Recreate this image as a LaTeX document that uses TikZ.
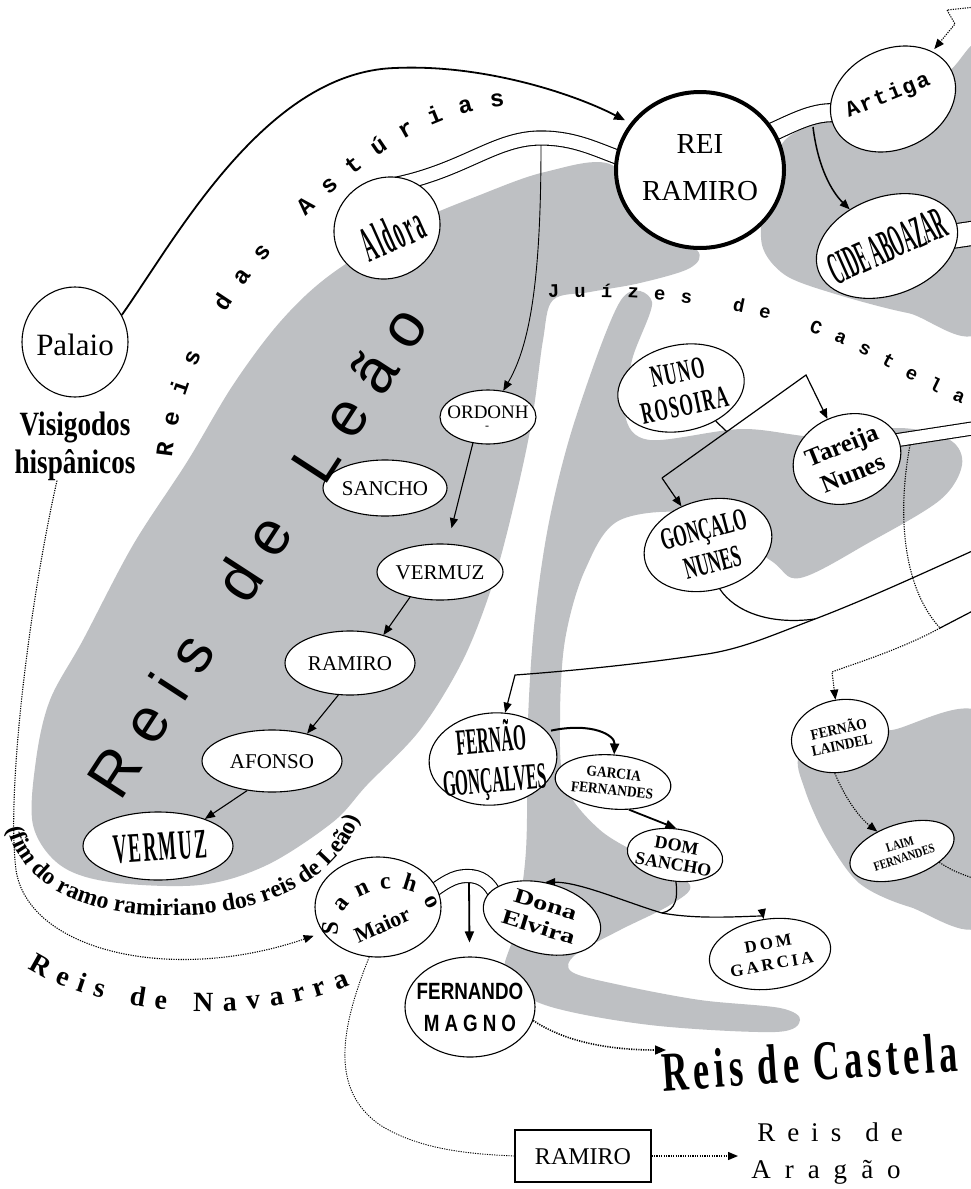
\documentclass[tikz,border=0pt]{standalone}
\usepackage{graphicx}
\usepackage{fontspec}
\setmainfont{Liberation Serif}
\newfontfamily\cX{Liberation Serif}[FakeStretch=0.35]
\newfontfamily\cA{Liberation Serif}[FakeStretch=0.45]
\newfontfamily\cB{Liberation Serif}[FakeStretch=0.55]
\newfontfamily\cC{Liberation Serif}[FakeStretch=0.65]
\newfontfamily\cD{Liberation Serif}[FakeStretch=0.8]
\newfontfamily\cE{Liberation Serif}[FakeStretch=0.9]
\newfontfamily\cW{Liberation Serif}[FakeStretch=1.35]
\newfontfamily\monof{Liberation Mono}
\newfontfamily\sansf{Liberation Sans}
\newfontfamily\sansc{Liberation Sans}[FakeStretch=0.8]
\usetikzlibrary{shapes.geometric,arrows.meta,decorations.text,calc}
\newcommand\fsz[2]{\fontsize{#1}{#2}\selectfont}
\definecolor{shade}{RGB}{190,192,195}
\pgfdeclarelayer{bg}
\pgfdeclarelayer{mid}
\pgfsetlayers{bg,mid,main}
\tikzset{
  pers/.style={ellipse, draw, fill=white, line width=1.1pt, inner sep=0pt},
  ptxt/.style={inner sep=0pt, align=center},
  conn/.style={line width=1.1pt, -{Triangle[length=10pt,width=8pt]}},
  thickconn/.style={line width=1.8pt, -{Triangle[length=11pt,width=9pt]}},
  dotconn/.style={line width=1.1pt, dash pattern=on 1.2pt off 1.2pt},
  dottip/.style={-{Triangle[length=10pt,width=8pt]}},
  marriage/.style={double=white, double distance=13pt, line width=1.1pt},
  region/.style={fill=shade, draw=none},
  onpath/.style={decorate, decoration={text along path, text align={fit to path}, text={#1}}}
}
\begin{document}
\begin{tikzpicture}[x=1pt,y=-1pt]
\useasboundingbox (0,0) rectangle (970,1189);
\clip (0,0) rectangle (970,1189);
\begin{pgfonlayer}{bg}
\fill[white] (0,0) rectangle (970,1189);
\fill[region] plot[smooth cycle, tension=0.55] coordinates {(330,275) (410,225) (480,195) (545,172) (612,165) (650,225) (697,250) (690,268) (640,283) (590,292) (553,300) (543,340) (532,420) (515,500) (493,583) (463,660) (420,730) (367,785) (333,822) (267,865) (200,885) (110,882) (60,865) (33,825) (36,760) (50,700) (83,640) (133,545) (187,462) (233,385) (280,322)};
\fill[region] plot[smooth cycle, tension=0.55] coordinates {(621,300) (652,302) (632,360) (625,415) (650,440) (742,429) (820,437) (900,428) (950,440) (962,465) (940,500) (870,542) (800,578) (770,560) (700,515) (620,520) (585,570) (565,640) (560,720) (565,785) (600,830) (650,860) (690,885) (670,905) (620,930) (575,955) (572,972) (620,985) (700,1000) (780,1008) (800,1020) (775,1032) (650,1025) (545,1005) (505,975) (515,930) (526,850) (528,720) (535,617) (550,517) (576,417)};
\fill[region] plot[smooth cycle, tension=0.5] coordinates {(785,140) (830,120) (900,108) (950,70) (985,55) (985,322) (908,313) (832,293) (785,275) (762,245) (765,190)};
\fill[region] plot[smooth cycle, tension=0.5] coordinates {(800,755) (850,735) (892,730) (985,718) (985,920) (910,907) (859,883) (826,837) (805,790)};
\end{pgfonlayer}

% ---------- persons ----------
\node[pers, minimum width=106pt, minimum height=110pt] (palaio) at (75,342) {};
\node[ptxt, font=\fsz{31}{34}] (palaio-t) at (75,345) {Palaio};
\node[ptxt, font=\cD\bfseries\fsz{34}{38}] (visig) at (75,446) {Visigodos\\hisp\^anicos};
\node[pers, line width=4pt, minimum width=168pt, minimum height=156pt] (rr) at (700,170) {};
\node[ptxt, font=\fsz{29}{47}] (rr-t) at (700,168) {REI\\RAMIRO};
\node[pers, rotate=25, minimum width=130pt, minimum height=100pt] (artiga) at (893,99) {};
\node[ptxt, rotate=22, font=\monof\bfseries\fsz{22}{24}] (artiga-t) at (888,96) {A\hspace{2pt}r\hspace{2pt}t\hspace{2pt}i\hspace{2pt}g\hspace{2pt}a};
\node[pers, rotate=20, minimum width=146pt, minimum height=98pt] (cide) at (887,246) {};
\node[ptxt, rotate=24, font=\cX\bfseries\fsz{46}{48}] (cide-t) at (887,246) {CIDE ABOAZAR};
\node[pers, rotate=30, minimum width=108pt, minimum height=100pt] (aldora) at (387,228) {};
\node[ptxt, rotate=24, font=\cX\bfseries\fsz{50}{52}] (aldora-t) at (392,234) {A\hspace{2.5pt}l\hspace{2.5pt}d\hspace{2.5pt}o\hspace{2.5pt}r\hspace{2.5pt}a};
\node[pers, minimum width=96pt, minimum height=54pt] (ordonh) at (488,417) {};
\node[ptxt, font=\fsz{19}{20}] (ordonh-t) at (488,412) {ORDONH};
\node[ptxt, font=\fsz{12}{12}] (ordonh-d) at (487,428) {-};
\node[pers, minimum width=124pt, minimum height=56pt] (sancho) at (385,488) {};
\node[ptxt, font=\fsz{21}{22}] (sancho-t) at (385,489) {SANCHO};
\node[pers, minimum width=126pt, minimum height=56pt] (vermuza) at (440,572) {};
\node[ptxt, font=\fsz{21}{22}] (vermuza-t) at (440,573) {VERMUZ};
\node[pers, minimum width=130pt, minimum height=64pt] (ramiro) at (350,663) {};
\node[ptxt, font=\fsz{21}{22}] (ramiro-t) at (350,664) {RAMIRO};
\node[pers, minimum width=140pt, minimum height=62pt] (afonso) at (272,761) {};
\node[ptxt, font=\fsz{21}{22}] (afonso-t) at (272,762) {AFONSO};
\node[pers, minimum width=150pt, minimum height=68pt] (vermuzb) at (158,846) {};
\node[ptxt, rotate=4, font=\cA\bfseries\fsz{42}{44}] (vermuzb-t) at (160,847) {V\hspace{2pt}E\hspace{2pt}R\hspace{2pt}M\hspace{2pt}U\hspace{2pt}Z};
\node[pers, rotate=12, minimum width=128pt, minimum height=86pt] (nuno) at (681,388) {};
\node[ptxt, rotate=12, font=\cB\bfseries\fsz{31}{34}] (nuno-t) at (681,389) {N\hspace{1.5pt}U\hspace{1.5pt}N\hspace{1.5pt}O\\R\hspace{1.5pt}O\hspace{1.5pt}S\hspace{1.5pt}O\hspace{1.5pt}I\hspace{1.5pt}R\hspace{1.5pt}A};
\node[pers, rotate=20, minimum width=110pt, minimum height=88pt] (tareija) at (847,459) {};
\node[ptxt, rotate=22, font=\bfseries\fsz{25}{30}] (tareija-t) at (847,459) {Tareija\\Nunes};
\node[pers, rotate=15, minimum width=130pt, minimum height=90pt] (goncalo) at (708,545) {};
\node[ptxt, rotate=15, font=\cB\bfseries\fsz{31}{34}] (goncalo-t) at (708,546) {GONÇALO\\NUNES};
\node[pers, rotate=5, minimum width=128pt, minimum height=92pt] (fernao) at (493,759) {};
\node[ptxt, rotate=5, font=\bfseries\fsz{37}{40}] (fernao-t) at (493,760) {\scalebox{0.45}[1]{FERNÃO}\\\scalebox{0.45}[1]{GONÇALVES}};
\node[pers, rotate=-5, minimum width=116pt, minimum height=54pt] (garcia) at (613,782) {};
\node[ptxt, rotate=-6, font=\cE\bfseries\fsz{15}{17}] (garcia-t) at (613,782) {GARCIA\\FERNANDES};
\node[pers, rotate=-8, minimum width=96pt, minimum height=52pt] (domsancho) at (675,855) {};
\node[ptxt, rotate=-10, font=\bfseries\fsz{18}{19}] (domsancho-t) at (675,855) {DOM\\SANCHO};
\node[pers, rotate=-15, minimum width=120pt, minimum height=70pt] (elvira) at (542,918) {};
\node[ptxt, rotate=-17, font=\cW\bfseries\fsz{21}{24}] (elvira-t) at (542,916) {Dona\\Elvira};
\node[pers, rotate=8, minimum width=122pt, minimum height=70pt] (domgarcia) at (770,954) {};
\node[ptxt, rotate=10, font=\bfseries\fsz{17}{21}] (domgarcia-t) at (770,954) {D\hspace{3pt}O\hspace{3pt}M\\G\hspace{3pt}A\hspace{3pt}R\hspace{3pt}C\hspace{3pt}I\hspace{3pt}A};
\node[pers, rotate=12, minimum width=98pt, minimum height=72pt] (laindel) at (840,736) {};
\node[ptxt, rotate=12, font=\bfseries\fsz{15}{16}] (laindel-t) at (840,736) {\scalebox{0.9}[1]{FERNÃO}\\\scalebox{0.9}[1]{LAINDEL}};
\node[pers, rotate=18, minimum width=108pt, minimum height=54pt] (laim) at (902,851) {};
\node[ptxt, rotate=18, font=\cD\bfseries\fsz{13}{14}] (laim-t) at (902,851) {LAIM\\FERNANDES};
\node[pers, minimum width=126pt, minimum height=100pt] (smaior) at (378,907) {};
\node[ptxt, rotate=24, font=\bfseries\fsz{22}{22}] (smaior-t) at (382,925) {Maior};
\node[pers, minimum width=130pt, minimum height=100pt] (fmagno) at (470,1007) {};
\node[ptxt, font=\sansc\bfseries\fsz{23.5}{32}] (fmagno-t) at (470,1007) {FERNANDO\\M\hspace{5pt}A\hspace{5pt}G\hspace{5pt}N\hspace{5pt}O};
\node[draw, line width=1.3pt, fill=white, minimum width=136pt, minimum height=52pt, inner sep=0pt] (rbox) at (583,1156) {};
\node[ptxt, font=\fsz{24}{24}] (rbox-t) at (583,1157) {RAMIRO};

% ---------- free labels ----------
\node[ptxt, rotate=4, font=\cC\bfseries\fsz{56}{56}] (castela) at (810,1062) {R\hspace{5pt}e\hspace{5pt}i\hspace{5pt}s\hspace{14pt}d\hspace{5pt}e\hspace{14pt}C\hspace{5pt}a\hspace{5pt}s\hspace{5pt}t\hspace{5pt}e\hspace{5pt}l\hspace{5pt}a};
\node[ptxt, font=\fsz{27}{27}] (aragao1) at (830,1132) {R\hspace{12pt}e\hspace{12pt}i\hspace{12pt}s\hspace{24pt}d\hspace{12pt}e};
\node[ptxt, font=\fsz{27}{27}] (aragao2) at (826,1172) {A\hspace{14pt}r\hspace{14pt}a\hspace{14pt}g\hspace{14pt}ã\hspace{14pt}o};

\path[onpath={|\monof\bfseries\fsz{24}{24}|Reis das Ast{ú}rias}] (172,458) .. controls (180,380) and (220,300) .. (300,222) .. controls (370,155) and (430,112) .. (505,106);
\path[onpath={|\monof\bfseries\fsz{19}{19}|Ju{í}zes de Castela}] (548,298) .. controls (680,292) and (790,315) .. (870,358) .. controls (910,380) and (940,395) .. (962,404);
\path[onpath={|\sansf\fsz{62}{62}|Reis de Le{ã}o}] (120,802) -- (430,325);
\path[onpath={|\bfseries\fsz{24}{24}|(fim do ramo ramiriano dos reis de Le{ã}o)}] (8,828) .. controls (25,905) and (130,925) .. (220,912) .. controls (290,902) and (340,870) .. (360,818);
\path[onpath={|\bfseries\fsz{28}{28}|Reis de Navarra}] (28,968) .. controls (110,1020) and (260,1025) .. (350,985);
\path[onpath={|\bfseries\fsz{24}{24}|Sancho}] (338,936) .. controls (334,884) and (420,874) .. (428,910);

% ---------- connectors ----------
\coordinate (hump) at (541,145);
\coordinate (ajunc) at (813,127);
\coordinate (tjR) at (995,425);
\coordinate (tjD) at (910,445);
\coordinate (junc2) at (940,628);
\coordinate (l1s) at (990,543);
\coordinate (l2s) at (990,602);
\coordinate (gj) at (815,619);
\coordinate (c2) at (515,675);
\coordinate (corner) at (662,478);
\coordinate (peak) at (806,375);
\coordinate (njunc) at ($(corner)!0.45!(peak)$);
\coordinate (ejunc) at (662,913);
\coordinate (sej) at (469,883);
\coordinate (castA) at (666,1050);
\coordinate (aragA) at (738,1156);
\coordinate (ldot) at (832,672);
\coordinate (topin) at (985,6);
\coordinate (topa) at (947,10);
\coordinate (topb) at (955,24);

\begin{pgfonlayer}{mid}
\draw[thickconn, shorten >=6pt] (palaio.30) .. controls (175,240) and (265,72) .. (395,68) .. controls (480,64) and (570,92) .. (rr.146);
\draw[marriage] ($(aldora.50)!8pt!(aldora.center)$) .. controls (465,170) and (495,138) .. (541,138) .. controls (575,138) and (597,150) .. ($(rr.172)!8pt!(rr.center)$);
\draw[conn, line width=0.9pt] (hump) .. controls (541,280) and (530,345) .. (ordonh);
\draw[marriage, double distance=17pt] ($(rr.28)!10pt!(rr.center)$) .. controls (795,122) and (815,110) .. ($(artiga.170)!10pt!(artiga.center)$);
\draw[dotconn, dottip, shorten >=3pt] (topin) -- (topa) -- (topb) -- (artiga);
\draw[conn, line width=1.5pt] (ajunc) .. controls (818,168) and (832,192) .. (cide);
\draw[marriage, double distance=23pt] (cide.center) -- (995,230);
\draw[marriage, double distance=12pt] ($(tareija.center)+(25,-15)$) -- (tjR);
\draw[dotconn] (tjD) .. controls (896,520) and (905,590) .. (junc2);
\draw[line width=1.2pt] (l2s) -- (junc2);
\draw[dotconn, dottip] (junc2) .. controls (900,650) and (850,665) .. (ldot) -- (laindel);
\draw[dotconn, dottip] (laindel.-110) .. controls (846,800) and (860,818) .. (laim);
\draw[dotconn] (laim.-35) .. controls (955,872) .. (990,884);
\draw[conn, line width=1.2pt] (l1s) .. controls (930,570) and (870,598) .. (gj) .. controls (770,636) and (740,650) .. (700,655) .. controls (640,664) and (570,671) .. (c2) -- (fernao);
\draw[line width=1.2pt] (goncalo.south) .. controls (735,612) and (770,625) .. (gj);
\draw[line width=1.2pt] (nuno) -- (njunc);
\draw[conn, line width=1.2pt] (corner) -- (peak) -- (tareija);
\draw[conn, line width=1.2pt] (corner) -- (goncalo);
\draw[thickconn, line width=2pt, shorten <=4pt] (fernao.22) .. controls (592,722) and (615,735) .. (garcia);
\draw[thickconn] (garcia.-55) -- (domsancho.95);
\draw[line width=1.2pt] (domsancho.-80) .. controls (678,898) and (676,910) .. (ejunc);
\draw[conn, line width=1.2pt] (ejunc) .. controls (625,902) and (580,882) .. (elvira.100);
\draw[conn, line width=1.2pt] (ejunc) .. controls (700,920) and (745,916) .. (763,916) -- (domgarcia);
\draw[marriage, double distance=12pt] ($(smaior.15)!8pt!(smaior.center)$) .. controls (450,878) and (458,876) .. (468,876) .. controls (480,876) and (490,882) .. ($(elvira.170)!8pt!(elvira.center)$);
\draw[thickconn, shorten >=14pt] (sej) -- (fmagno);
\draw[dotconn, line width=1.6pt, -{Triangle[length=11pt,width=9pt]}] (fmagno.-12) .. controls (565,1042) and (610,1050) .. (castA);
\draw[dotconn, line width=0.9pt] (smaior.-100) .. controls (340,1030) and (330,1090) .. (380,1125) .. controls (420,1150) and (470,1154) .. (rbox.west);
\draw[dotconn, line width=1.3pt, dottip] (rbox.east) -- (aragA);
\draw[dotconn, dottip, shorten >=10pt] ([xshift=-18pt]visig.south) .. controls (30,600) and (6,790) .. (16,870) .. controls (28,950) and (170,985) .. (smaior.205);
\draw[conn, shorten >=16pt] (ordonh.-120) -- (vermuza.75);
\draw[conn] (vermuza.-140) -- (ramiro.40);
\draw[conn] (ramiro.-110) -- (afonso.38);
\draw[conn] (afonso.-130) -- (vermuzb.30);
\end{pgfonlayer}
\end{tikzpicture}
\end{document}
